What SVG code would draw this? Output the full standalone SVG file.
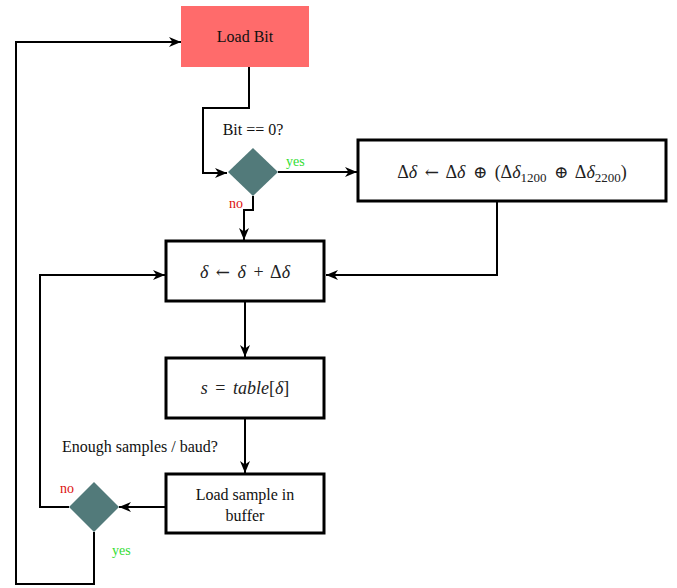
<svg xmlns="http://www.w3.org/2000/svg" width="677" height="588" viewBox="0 0 677 588">
  <style>
    .box { fill: #ffffff; stroke: #000000; stroke-width: 3; }
    .dia { fill: #527a7a; stroke: none; }
    .wire { fill: none; stroke: #000000; stroke-width: 2; }
    .lbl { font-family: "Liberation Serif", "Times New Roman", serif; font-size: 16px; fill: #111111; }
    .math { font-family: "Liberation Serif", "Times New Roman", serif; font-size: 18px; fill: #222222; word-spacing: 3px; }
    .sym { font-family: "DejaVu Serif", serif; font-size: 17px; }
    .it { font-style: italic; }
    .yes { font-family: "Liberation Serif", "Times New Roman", serif; font-size: 14px; fill: #33dd33; }
    .no { font-family: "Liberation Serif", "Times New Roman", serif; font-size: 14px; fill: #dd1111; }
  </style>
  <defs>
    <marker id="arrow" viewBox="0 0 12 10" refX="12" refY="5" markerWidth="12" markerHeight="10" markerUnits="userSpaceOnUse" orient="auto">
      <path d="M0,0 L12,5 L0,10 L3.5,5 Z" fill="#000000"/>
    </marker>
  </defs>

  <!-- connectors -->
  <g id="connectors">
    <path class="wire" d="M249,67 V108 H203 V173 H227" marker-end="url(#arrow)"/>
    <path class="wire" d="M278,172 H357" marker-end="url(#arrow)"/>
    <path class="wire" d="M253,196 V210 H244 V240" marker-end="url(#arrow)"/>
    <path class="wire" d="M497,201 V275 H326" marker-end="url(#arrow)"/>
    <path class="wire" d="M245,301 V357" marker-end="url(#arrow)"/>
    <path class="wire" d="M245,418 V473" marker-end="url(#arrow)"/>
    <path class="wire" d="M165,507 H119" marker-end="url(#arrow)"/>
    <path class="wire" d="M69,507 H40 V275 H165" marker-end="url(#arrow)"/>
    <path class="wire" d="M94,532 V584 H16 V42 H181" marker-end="url(#arrow)"/>
  </g>

  <g id="load-bit">
    <rect x="181" y="6" width="128" height="61" fill="#ff6b6b"/>
    <text class="lbl" x="245" y="42" text-anchor="middle" fill="#2a0808">Load Bit</text>
  </g>

  <g id="bit-check">
    <polygon class="dia" points="253,148 278,172 253,196 228,172"/>
    <text class="lbl" x="253" y="135" text-anchor="middle">Bit == 0?</text>
    <text class="yes" x="286" y="166">yes</text>
    <text class="no" x="229" y="208">no</text>
  </g>

  <g id="delta-update">
    <rect class="box" x="358" y="140" width="308" height="61"/>
    <text class="math" x="512" y="178" text-anchor="middle">Δ<tspan class="it">δ</tspan> <tspan class="sym">←</tspan> Δ<tspan class="it">δ</tspan> <tspan class="sym">⊕</tspan> (Δ<tspan class="it">δ</tspan><tspan font-size="13" dy="4">1200</tspan><tspan dy="-4"> </tspan><tspan class="sym">⊕</tspan> Δ<tspan class="it">δ</tspan><tspan font-size="13" dy="4">2200</tspan><tspan dy="-4">)</tspan></text>
  </g>

  <g id="phase-step">
    <rect class="box" x="166" y="241" width="158" height="60"/>
    <text class="math" x="245" y="278" text-anchor="middle"><tspan class="it">δ</tspan> <tspan class="sym">←</tspan> <tspan class="it">δ</tspan> + Δ<tspan class="it">δ</tspan></text>
  </g>

  <g id="table-lookup">
    <rect class="box" x="166" y="358" width="158" height="60"/>
    <text class="math" x="245" y="394" text-anchor="middle"><tspan class="it">s</tspan> = <tspan class="it">table</tspan>[<tspan class="it">δ</tspan>]</text>
  </g>

  <g id="load-sample">
    <rect class="box" x="166" y="474" width="158" height="59"/>
    <text class="lbl" x="245" y="500" text-anchor="middle">Load sample in</text>
    <text class="lbl" x="245" y="521" text-anchor="middle">buffer</text>
  </g>

  <g id="samples-check">
    <polygon class="dia" points="94,482 119,507 94,532 69,507"/>
    <text class="lbl" x="62" y="452">Enough samples / baud?</text>
    <text class="no" x="60" y="493">no</text>
    <text class="yes" x="112" y="555">yes</text>
  </g>
</svg>
